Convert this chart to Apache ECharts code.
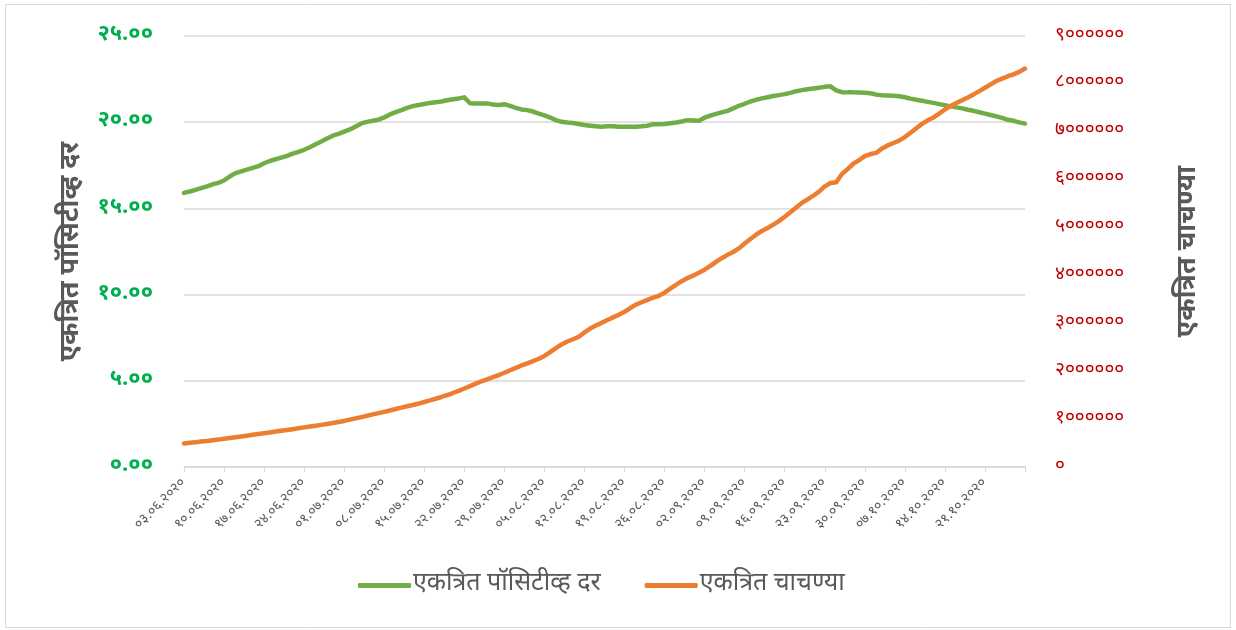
<!DOCTYPE html>
<html>
<head>
<meta charset="utf-8">
<script src="https://cdn.jsdelivr.net/npm/echarts@6/dist/echarts.min.js"></script>
<style>
  html, body { margin: 0; padding: 0; background: #fff; }
  #chart { width: 1236px; height: 630px; }
</style>
</head>
<body>
<div id="chart"></div>
<script>
var dates = [
  '03.06.2020', '04.06.2020', '05.06.2020', '06.06.2020', '07.06.2020', '08.06.2020', '09.06.2020', '10.06.2020',
  '11.06.2020', '12.06.2020', '13.06.2020', '14.06.2020', '15.06.2020', '16.06.2020', '17.06.2020', '18.06.2020',
  '19.06.2020', '20.06.2020', '21.06.2020', '22.06.2020', '23.06.2020', '24.06.2020', '25.06.2020', '26.06.2020',
  '27.06.2020', '28.06.2020', '29.06.2020', '30.06.2020',
  '01.07.2020', '02.07.2020', '03.07.2020', '04.07.2020', '05.07.2020', '06.07.2020', '07.07.2020', '08.07.2020',
  '09.07.2020', '10.07.2020', '11.07.2020', '12.07.2020', '13.07.2020', '14.07.2020', '15.07.2020', '16.07.2020',
  '17.07.2020', '18.07.2020', '19.07.2020', '20.07.2020', '21.07.2020', '22.07.2020', '23.07.2020', '24.07.2020',
  '25.07.2020', '26.07.2020', '27.07.2020', '28.07.2020', '29.07.2020', '30.07.2020', '31.07.2020',
  '01.08.2020', '02.08.2020', '03.08.2020', '04.08.2020', '05.08.2020', '06.08.2020', '07.08.2020', '08.08.2020',
  '09.08.2020', '10.08.2020', '11.08.2020', '12.08.2020', '13.08.2020', '14.08.2020', '15.08.2020', '16.08.2020',
  '17.08.2020', '18.08.2020', '19.08.2020', '20.08.2020', '21.08.2020', '22.08.2020', '23.08.2020', '24.08.2020',
  '25.08.2020', '26.08.2020', '27.08.2020', '28.08.2020', '29.08.2020', '30.08.2020', '31.08.2020',
  '01.09.2020', '02.09.2020', '03.09.2020', '04.09.2020', '05.09.2020', '06.09.2020', '07.09.2020', '08.09.2020',
  '09.09.2020', '10.09.2020', '11.09.2020', '12.09.2020', '13.09.2020', '14.09.2020', '15.09.2020', '16.09.2020',
  '17.09.2020', '18.09.2020', '19.09.2020', '20.09.2020', '21.09.2020', '22.09.2020', '23.09.2020', '24.09.2020',
  '25.09.2020', '26.09.2020', '27.09.2020', '28.09.2020', '29.09.2020', '30.09.2020',
  '01.10.2020', '02.10.2020', '03.10.2020', '04.10.2020', '05.10.2020', '06.10.2020', '07.10.2020', '08.10.2020',
  '09.10.2020', '10.10.2020', '11.10.2020', '12.10.2020', '13.10.2020', '14.10.2020', '15.10.2020', '16.10.2020',
  '17.10.2020', '18.10.2020', '19.10.2020', '20.10.2020', '21.10.2020', '22.10.2020', '23.10.2020', '24.10.2020',
  '25.10.2020', '26.10.2020', '27.10.2020', '28.10.2020'
]

// एकत्रित पॉसिटीव्ह दर (left axis, %)
var positiveRate = [
  15.90, 15.98, 16.08, 16.18, 16.28, 16.40, 16.48, 16.62, 16.85, 17.05,
  17.15, 17.25, 17.35, 17.45, 17.62, 17.75, 17.85, 17.95, 18.05, 18.18,
  18.28, 18.40, 18.55, 18.72, 18.88, 19.05, 19.22, 19.32, 19.45, 19.58,
  19.75, 19.93, 20.02, 20.08, 20.15, 20.28, 20.45, 20.58, 20.70, 20.83,
  20.93, 21.00, 21.06, 21.12, 21.16, 21.20, 21.27, 21.33, 21.38, 21.44,
  21.10, 21.08, 21.08, 21.09, 21.02, 21.00, 21.04, 20.95, 20.83, 20.74,
  20.70, 20.62, 20.50, 20.40, 20.27, 20.12, 20.02, 19.98, 19.95, 19.90,
  19.84, 19.80, 19.76, 19.74, 19.77, 19.77, 19.74, 19.74, 19.74, 19.74,
  19.76, 19.80, 19.88, 19.88, 19.90, 19.94, 19.98, 20.04, 20.12, 20.10,
  20.08, 20.26, 20.38, 20.48, 20.57, 20.66, 20.80, 20.95, 21.07, 21.20,
  21.30, 21.38, 21.45, 21.52, 21.57, 21.63, 21.70, 21.80, 21.86, 21.91,
  21.96, 22.00, 22.05, 22.08, 21.85, 21.74, 21.73, 21.73, 21.72, 21.71,
  21.68, 21.60, 21.56, 21.55, 21.53, 21.50, 21.45, 21.37, 21.30, 21.24,
  21.18, 21.12, 21.05, 20.98, 20.92, 20.86, 20.80, 20.72, 20.66, 20.58,
  20.50, 20.42, 20.34, 20.25, 20.14, 20.08, 19.99, 19.92
]

// एकत्रित चाचण्या (right axis)
var totalTests = [
  490000, 505000, 518000, 532000, 545000, 560000, 572000, 590000, 605000, 622000,
  638000, 654000, 672000, 688000, 705000, 722000, 740000, 757000, 773000, 790000,
  808000, 827000, 845000, 863000, 880000, 898000, 918000, 940000, 962000, 990000,
  1015000, 1042000, 1070000, 1098000, 1126000, 1152000, 1180000, 1210000, 1240000, 1268000,
  1295000, 1325000, 1358000, 1390000, 1425000, 1462000, 1503000, 1545000, 1590000, 1640000,
  1690000, 1740000, 1790000, 1832000, 1875000, 1920000, 1968000, 2020000, 2070000, 2120000,
  2165000, 2210000, 2260000, 2320000, 2400000, 2480000, 2560000, 2620000, 2667000, 2720000,
  2810000, 2890000, 2955000, 3010000, 3070000, 3125000, 3180000, 3240000, 3320000, 3390000,
  3440000, 3490000, 3535000, 3575000, 3640000, 3725000, 3805000, 3880000, 3945000, 3995000,
  4055000, 4120000, 4200000, 4285000, 4360000, 4430000, 4490000, 4565000, 4665000, 4760000,
  4850000, 4930000, 4990000, 5060000, 5135000, 5225000, 5320000, 5420000, 5515000, 5590000,
  5665000, 5750000, 5860000, 5930000, 5945000, 6120000, 6220000, 6335000, 6410000, 6490000,
  6535000, 6560000, 6650000, 6715000, 6765000, 6815000, 6890000, 6980000, 7075000, 7165000,
  7240000, 7300000, 7380000, 7465000, 7540000, 7600000, 7660000, 7715000, 7780000, 7850000,
  7920000, 7990000, 8060000, 8110000, 8160000, 8200000, 8250000, 8320000
]

var seriesNames = ['एकत्रित पॉसिटीव्ह दर', 'एकत्रित चाचण्या']

var devFont = '"Noto Sans Devanagari", "Nirmala UI", Mangal, "Noto Sans", sans-serif'
var devDigits = '०१२३४५६७८९'

function toDev(s) {
  return String(s).replace(/[0-9]/g, function (d) { return devDigits[+d] })
}

var chart = echarts.init(document.getElementById('chart'))

var option = {
  animation: false,
  textStyle: { fontFamily: devFont },
  grid: { left: 184, right: 211, top: 36, bottom: 163 },
  graphic: [{
    type: 'rect',
    shape: { x: 5.5, y: 4.5, width: 1225, height: 623 },
    style: { fill: 'none', stroke: '#d9d9d9', lineWidth: 1 },
    silent: true
  }],
  legend: {
    data: seriesNames,
    left: 353,
    top: 568,
    icon: 'roundRect',
    itemWidth: 53,
    itemHeight: 5,
    itemGap: 44,
    textStyle: { fontSize: 25, color: '#595959', fontFamily: devFont, padding: [0, 0, 0, -3] }
  },
  xAxis: {
    type: 'category',
    boundaryGap: false,
    data: dates,
    axisLine: { lineStyle: { color: '#d9d9d9', width: 1.5 } },
    axisTick: { interval: 6, length: 5, lineStyle: { color: '#d9d9d9' } },
    axisLabel: {
      interval: function (idx) { return idx % 7 === 0 && idx < dates.length - 1 },
      rotate: 45,
      margin: 14,
      fontSize: 14,
      color: '#595959',
      formatter: function (v) { return toDev(v) }
    },
    splitLine: { show: false }
  },
  yAxis: [{
    type: 'value',
    min: 0,
    max: 25,
    interval: 5,
    name: seriesNames[0],
    nameLocation: 'middle',
    nameGap: 98,
    nameRotate: 90,
    nameTextStyle: { fontSize: 27, fontWeight: 'bold', color: '#595959' },
    axisLine: { show: false },
    axisTick: { show: false },
    axisLabel: {
      margin: 31,
      fontSize: 22,
      fontWeight: 'bold',
      color: '#00b050',
      padding: [0, 0, 10, 0],
      formatter: function (v) { return toDev(v.toFixed(2)) }
    },
    splitLine: { lineStyle: { color: '#d9d9d9', width: 1.5 } }
  }, {
    type: 'value',
    min: 0,
    max: 9000000,
    interval: 1000000,
    name: seriesNames[1],
    nameLocation: 'middle',
    nameGap: 151,
    nameRotate: 90,
    nameTextStyle: { fontSize: 27, fontWeight: 'bold', color: '#595959' },
    axisLine: { show: false },
    axisTick: { show: false },
    axisLabel: {
      margin: 30,
      fontSize: 19,
      color: '#c00000',
      padding: [0, 0, 10, 0],
      formatter: function (v) { return toDev(v) }
    },
    splitLine: { show: false }
  }],
  series: [{
    name: seriesNames[0],
    type: 'line',
    yAxisIndex: 0,
    data: positiveRate,
    showSymbol: false,
    symbol: 'none',
    lineStyle: { color: '#70ad47', width: 4.5, cap: 'round', join: 'round' },
    itemStyle: { color: '#70ad47' }
  }, {
    name: seriesNames[1],
    type: 'line',
    yAxisIndex: 1,
    data: totalTests,
    showSymbol: false,
    symbol: 'none',
    lineStyle: { color: '#ed7d31', width: 4.5, cap: 'round', join: 'round' },
    itemStyle: { color: '#ed7d31' }
  }]
}

chart.setOption(option)
</script>
</body>
</html>
